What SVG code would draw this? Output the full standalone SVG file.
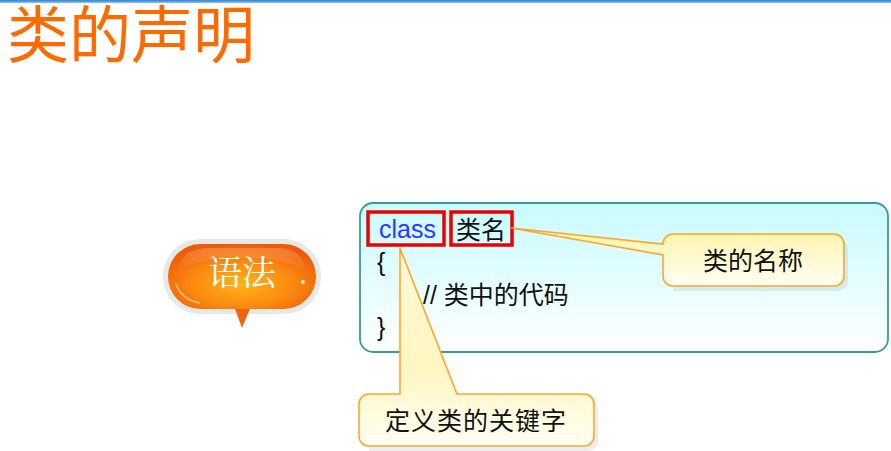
<svg xmlns="http://www.w3.org/2000/svg" width="891" height="451" viewBox="0 0 891 451">
  <defs>
    <linearGradient id="topbar" x1="0" y1="0" x2="0" y2="1">
      <stop offset="0" stop-color="#2f80d0"/>
      <stop offset="1" stop-color="#8cc4f0"/>
    </linearGradient>
    <linearGradient id="codeFill" x1="0" y1="0" x2="0" y2="1">
      <stop offset="0" stop-color="#c8fbff"/>
      <stop offset="1" stop-color="#ffffff"/>
    </linearGradient>
    <linearGradient id="calloutFill" x1="0" y1="0" x2="0" y2="1">
      <stop offset="0" stop-color="#fff3a8"/>
      <stop offset="1" stop-color="#fffff4"/>
    </linearGradient>
    <linearGradient id="pointerFill2" x1="0" y1="0" x2="0" y2="1">
      <stop offset="0" stop-color="#fff9d8"/>
      <stop offset="0.6" stop-color="#fff6c0"/>
      <stop offset="1" stop-color="#fffff4"/>
    </linearGradient>
    <radialGradient id="pillFill" cx="0.5" cy="0.62" r="0.62">
      <stop offset="0" stop-color="#ffb418"/>
      <stop offset="0.55" stop-color="#fb8a10"/>
      <stop offset="1" stop-color="#ee5a08"/>
    </radialGradient>
    <linearGradient id="gloss" x1="0" y1="0" x2="0" y2="1">
      <stop offset="0" stop-color="#ffffff" stop-opacity="0.2"/>
      <stop offset="1" stop-color="#ffffff" stop-opacity="0"/>
    </linearGradient>
  </defs>
  <style>
    .title { font-family: "Noto Sans CJK SC", sans-serif; font-size: 62px; fill: #ff6a00; }
    .code { font-family: "Liberation Sans", "Noto Sans CJK SC", sans-serif; font-size: 25px; fill: #111111; }
    .kw { fill: #3333ff; }
    .redbox { fill: none; stroke: #ee0000; stroke-width: 3.5; }
    .callout { stroke: #ffa52a; stroke-width: 1.6; }
    .ctext { font-family: "Noto Sans CJK SC", sans-serif; font-size: 25px; fill: #111111; text-anchor: middle; }
    .shadow { fill: #000000; opacity: 0.07; }
  </style>

  <rect x="0" y="0" width="891" height="3" fill="url(#topbar)"/>

  <g id="title">
    <text class="title" x="7" y="58">类的声明</text>
  </g>

  <g id="bubble-yufa">
    <rect x="163" y="239" width="158" height="75" rx="37" fill="#e8e8e8"/>
    <path d="M234,306 L251,306 L242,328 Z" fill="#f06410"/>
    <rect x="168" y="244" width="148" height="65" rx="32.5" fill="url(#pillFill)"/>
    <path d="M178,272 Q180,250 205,248 L280,248 Q304,250 306,272 Q290,258 242,258 Q194,258 178,272 Z" fill="url(#gloss)"/>
    <path d="M176,284 Q182,300 200,303" fill="none" stroke="#ffffff" stroke-opacity="0.55" stroke-width="1.5"/>
    <circle cx="303" cy="282" r="2" fill="#ffffff" opacity="0.8"/>
    <text x="242" y="285" font-family="'Noto Serif CJK SC', 'Noto Sans CJK SC', serif" font-size="34" fill="#ffffff" text-anchor="middle">语法</text>
  </g>

  <g id="code-box">
    <rect x="360" y="203" width="528" height="149" rx="13" fill="url(#codeFill)" stroke="#3a9a98" stroke-width="1.8"/>
    <rect class="redbox" x="368" y="212" width="76" height="33"/>
    <rect class="redbox" x="451" y="212" width="61" height="33"/>
    <text class="code kw" x="379" y="238" font-size="26">class</text>
    <text class="code" x="456" y="239">类名</text>
    <text class="code" x="377" y="271">{</text>
    <text class="code" x="423" y="304" font-size="26">// 类中的代码</text>
    <text class="code" x="377" y="336">}</text>
  </g>

  <g id="connectors">
    <path class="shadow" d="M673,239 H838 A10,10 0 0 1 848,249 V281 A10,10 0 0 1 838,291 H673 Z"/>
    <path class="shadow" d="M369,399 H588 A10,10 0 0 1 598,409 V441 A10,10 0 0 1 588,451 H369 Z"/>
  </g>

  <g id="callout-name">
    <path class="callout" fill="url(#calloutFill)" d="M673,234 H834 A10,10 0 0 1 844,244 V276 A10,10 0 0 1 834,286 H673 A10,10 0 0 1 663,276 V255 L511,228 L663,244 A10,10 0 0 1 673,234 Z"/>
    <text class="ctext" x="753" y="270">类的名称</text>
  </g>

  <g id="callout-keyword">
    <path class="callout" fill="url(#pointerFill2)" d="M369,394 H400 V248 L457,394 H584 A10,10 0 0 1 594,404 V436 A10,10 0 0 1 584,446 H369 A10,10 0 0 1 359,436 V404 A10,10 0 0 1 369,394 Z"/>
    <text class="ctext" x="476" y="430" letter-spacing="1">定义类的关键字</text>
  </g>
</svg>
